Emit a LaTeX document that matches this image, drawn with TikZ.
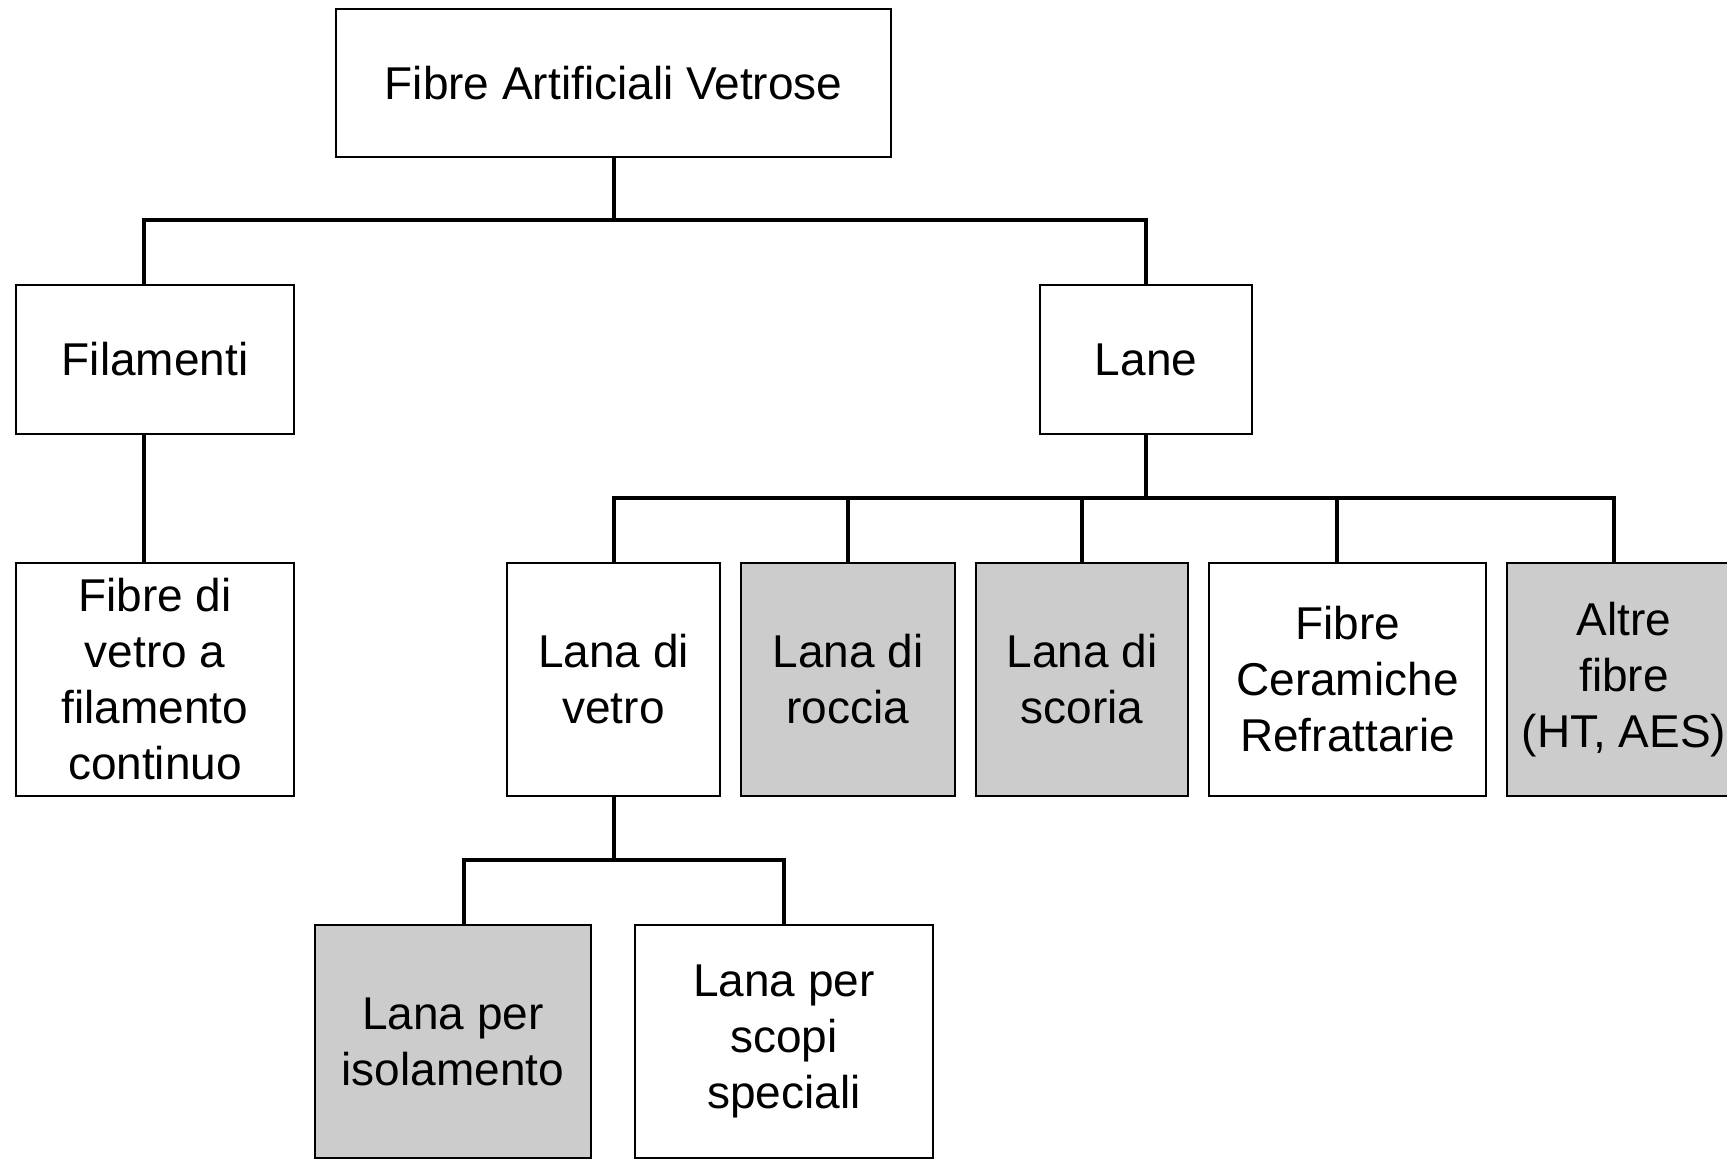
\documentclass[tikz,border=0pt]{standalone}
\usepackage{fontspec}
\setmainfont{Liberation Sans}
\usetikzlibrary{positioning}

\begin{document}
\begin{tikzpicture}[
        x=0.5pt, y=-0.5pt,
        node distance=9.5pt,
        box/.style={
            draw,
            line width=1pt,
            align=center,
            inner sep=0pt,
            minimum height=116.5pt,
            font=\fontsize{23}{28}\selectfont
        },
        boxgray/.style={box, fill=black!20},
        link/.style={line width=2pt}
    ]
        \useasboundingbox (0,0) rectangle (1727,1158);
        \clip (0,0) rectangle (1727,1158);

        % Root and first level
        \node[box, anchor=north west, minimum width=277.5pt, minimum height=74pt] (fav) at (335,8) {Fibre Artificiali Vetrose};
        \node[box, anchor=north west, minimum width=139pt, minimum height=74.5pt] (filam) at (15,284) {Filamenti};
        \node[box, anchor=north west, minimum width=106pt, minimum height=74.5pt] (lane) at (1039,284) {Lane};

        % Second level
        \node[box, anchor=north west, minimum width=139pt] (fvetro) at (15,562) {Fibre di\\vetro a\\filamento\\continuo};
        \node[box, anchor=north west, minimum width=106.5pt] (lvetro) at (506,562) {Lana di\\vetro};
        \node[boxgray, right=of lvetro, minimum width=107pt] (lroccia) {Lana di\\roccia};
        \node[boxgray, right=of lroccia, minimum width=106pt] (lscoria) {Lana di\\scoria};
        \node[box, right=of lscoria, minimum width=138.5pt] (fcr) {Fibre\\Ceramiche\\Refrattarie};
        \node[boxgray, right=of fcr, minimum width=117pt] (altre) {Altre\\fibre\\(HT, AES)};

        % Third level
        \node[boxgray, anchor=north west, minimum width=138pt] (lisol) at (314,924) {Lana per\\isolamento};
        \node[box, anchor=north west, minimum width=149pt] (lscopi) at (634,924) {Lana per\\scopi\\speciali};

        % Connectors
        \draw[link] (fav.south) -- ++(0,64);
        \draw[link] ([xshift=-5.5pt]filam.north) -- ++(0,-64) -| (lane.north);
        \draw[link] ([xshift=-5.5pt]filam.south) -- ([xshift=-5.5pt]fvetro.north);

        \draw[link] (lane.south) -- ++(0,65);
        \draw[link] (lvetro.north) -- ++(0,-64) -| ([xshift=-5pt]altre.north);
        \foreach \n in {lroccia, lscoria}
            \draw[link] (\n.north) -- ++(0,-64);
        \draw[link] ([xshift=-5.5pt]fcr.north) -- ++(0,-64);

        \draw[link] (lvetro.south) -- ++(0,65);
        \draw[link] ([xshift=5.5pt]lisol.north) -- ++(0,-64) -| (lscopi.north);
    \end{tikzpicture}
\end{document}
